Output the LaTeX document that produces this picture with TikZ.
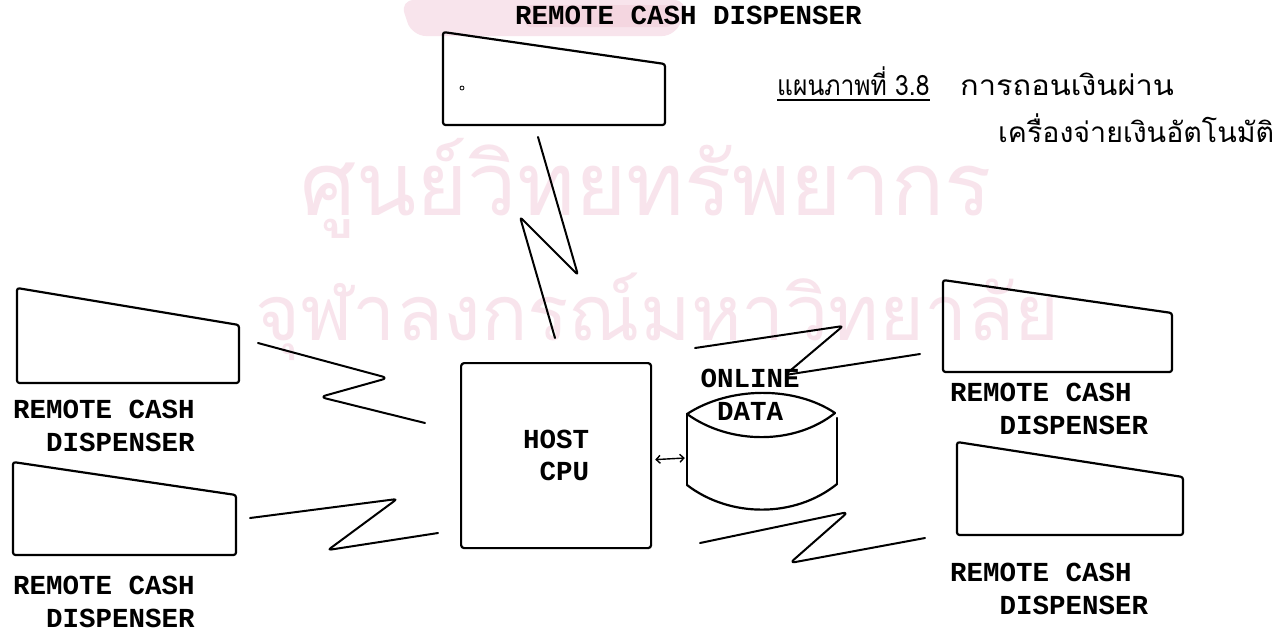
\documentclass[tikz,border=0pt]{standalone}
\usepackage{graphicx}
\usepackage{fontspec}
\setmonofont{Liberation Mono}
\newfontfamily\thaifont[Script=Thai]{Loma}
\usetikzlibrary{arrows.meta}
\definecolor{wmpink}{RGB}{248,228,236}
\definecolor{wmred}{RGB}{244,214,224}
\begin{document}
\begin{tikzpicture}[x=1pt,y=-1pt,
  inkline/.style={line width=2.2pt, draw=black, line join=round, line cap=round},
  dispbox/.style={inkline, rounded corners=2.5pt},
  zig/.style={line width=2pt, draw=black, line join=round, line cap=round, rounded corners=3pt},
  tw/.style={font=\ttfamily\bfseries\fontsize{27.5}{32.5}\selectfont, inner sep=0pt, align=left},
  twc/.style={font=\ttfamily\bfseries\fontsize{27.5}{32.5}\selectfont, inner sep=0pt, align=center},
  thaitext/.style={font=\thaifont\fontsize{28}{36}\selectfont, inner sep=0pt},
  wmtext/.style={font=\thaifont\fontsize{88}{100}\selectfont, inner sep=0pt, text=wmpink},
  dblarr/.style={line width=1.4pt, {Straight Barb[length=4pt,width=8pt]}-{Straight Barb[length=4pt,width=8pt]}}
]
\useasboundingbox (0,0) rectangle (1287,633);
\fill[white] (0,0) rectangle (1287,633);

% watermark (faint crest and text)
\fill[wmpink, rounded corners=14pt] (400,0) -- (688,0) -- (676,36) -- (412,36) -- cycle;
\fill[wmred, rounded corners=6pt] (525,5) rectangle (672,27);
\node[wmtext, anchor=base west] (wm1) at (300,215) {ศูนย์วิทยทรัพยากร};
\node[wmtext, anchor=base west, font=\thaifont\fontsize{77}{90}\selectfont] (wm2) at (255,340) {จุฬาลงกรณ์มหาวิทยาลัย};

% dispensers
\draw[dispbox] (443,32) -- (665,64) -- (665,125) -- (443,125) -- cycle;
\draw[line width=0.8pt] (462,88) circle (2);
\draw[dispbox] (17,288) -- (239,325) -- (239,383) -- (17,383) -- cycle;
\draw[dispbox] (13,462) -- (236,495) -- (236,555) -- (13,555) -- cycle;
\draw[dispbox] (943,280) -- (1172,313) -- (1172,372) -- (943,372) -- cycle;
\draw[dispbox] (957,442) -- (1183,477) -- (1183,535) -- (957,535) -- cycle;

% labels (base = baseline of the last line)
\node[tw, anchor=base west] (lblT)  at (515,24)  {REMOTE CASH DISPENSER};
\node[tw, anchor=base west] (lblLU) at (13,451)  {REMOTE CASH\\\hphantom{XX}DISPENSER};
\node[tw, anchor=base west] (lblLL) at (13,627)  {REMOTE CASH\\\hphantom{XX}DISPENSER};
\node[tw, anchor=base west] (lblRU) at (950,434) {REMOTE CASH\\\hphantom{XXX}DISPENSER};
\node[tw, anchor=base west] (lblRL) at (950,614) {REMOTE CASH\\\hphantom{XXX}DISPENSER};

% host
\node[inkline, rounded corners=3pt, tw, minimum width=190pt, minimum height=185pt, anchor=north west] (host) at (460,362) {HOST\\\hphantom{C}CPU};

% disk
\node[minimum width=150pt, minimum height=92pt, inner sep=0pt] (disk) at (762,458) {};
\draw[inkline] (687,414) .. controls (730,386) and (795,386) .. (835,413);
\draw[inkline] (687,414) .. controls (730,445) and (795,445) .. (835,413);
\draw[inkline] (687,414) -- (687,485);
\draw[inkline] (837,418) -- (837,484);
\draw[inkline] (687,485) .. controls (730,518) and (795,518) .. (837,484);
\node[twc] (dlabel) at (750,395) {ONLINE\\DATA};

\draw[dblarr] ([shift={(3,4)}]host.east) -- ([shift={(-2,0)}]disk.west);

% connectors
\coordinate (cT1) at (538,137);  \coordinate (cT2) at (555,338);
\coordinate (cLU1) at (258,343); \coordinate (cLU2) at (425,423);
\coordinate (cLL1) at (250,518); \coordinate (cLL2) at (438,533);
\coordinate (cRU1) at (695,348); \coordinate (cRU2) at (920,354);
\coordinate (cRL1) at (700,543); \coordinate (cRL2) at (925,538);
\draw[zig] (cT1) -- (578,275) -- (520,217) -- (cT2);
\draw[zig, rounded corners=6pt] (cLU1) -- (388,378) -- (320,397) -- (cLU2);
\draw[zig] (cLL1) -- (397,499) -- (328,550) -- (cLL2);
\draw[zig] (cRU1) -- (843,326) -- (785,375) -- (cRU2);
\draw[zig, rounded corners=5pt] (cRL1) -- (848,512) -- (790,563) -- (cRL2);

% caption
\node[thaitext, anchor=base west] (cap1a) at (777,95) {\scalebox{0.88}[1]{แผนภาพที่ 3.8}};
\node[thaitext, anchor=base west] (cap1b) at (960,95) {\scalebox{1.1}[1]{การถอนเงินผ่าน}};
\node[thaitext, anchor=base west] (cap2) at (998,142) {\scalebox{1.02}[1]{เครื่องจ่ายเงินอัตโนมัติ}};
\draw[line width=2pt] ([shift={(0,5)}]cap1a.base west) -- ([shift={(0,5)}]cap1a.base east);
\end{tikzpicture}
\end{document}
